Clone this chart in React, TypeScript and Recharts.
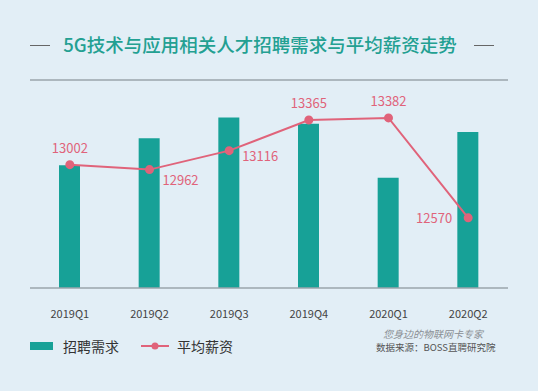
import { ComposedChart, Bar, Line, XAxis, YAxis, ReferenceLine } from "recharts";

const quarters = ["2019Q1", "2019Q2", "2019Q3", "2019Q4", "2020Q1", "2020Q2"];
const demand = [59, 72, 82, 79, 53, 75];
const salary = [13002, 12962, 13116, 13365, 13382, 12570];
const labelSpots = ["top", "bottomRight", "right", "top", "top", "left"];

const data = quarters.map((q, i) => ({ name: q, demand: demand[i], salary: salary[i] }));

const TEAL = "#17a197";
const PINK = "#e0637a";
const FONT = '"Noto Sans CJK SC", "Noto Sans", sans-serif';

const SalaryLabel = (props: any) => {
  const { x, y, value, index } = props;
  const spot = labelSpots[index];
  let tx = x, ty = y - 12, anchor: any = "middle";
  if (spot === "bottomRight") { tx = x + 13; ty = y + 15; anchor = "start"; }
  if (spot === "right") { tx = x + 13; ty = y + 10; anchor = "start"; }
  if (spot === "left") { tx = x - 16; ty = y + 5; anchor = "end"; }
  return (
    <text x={tx} y={ty} fill={PINK} fontSize={13} textAnchor={anchor} fontFamily={FONT}>
      {value}
    </text>
  );
};

const LegendBox = () => (
  <div style={{ position: "absolute", left: 30, top: 336, display: "flex", alignItems: "center", fontFamily: FONT, fontSize: 14, color: "#333" }}>
    <span style={{ width: 23, height: 8, background: TEAL, display: "inline-block", marginRight: 10 }} />
    <span>招聘需求</span>
    <svg width={28} height={10} style={{ marginLeft: 22, marginRight: 8 }}>
      <line x1={0} y1={5} x2={28} y2={5} stroke={PINK} strokeWidth={2} />
      <circle cx={14} cy={5} r={3.5} fill={PINK} />
    </svg>
    <span>平均薪资</span>
  </div>
);

export default function App() {
  return (
    <div style={{ position: "absolute", left: 0, top: 0, width: 538, height: 391, background: "#e2eef6", overflow: "hidden" }}>
      <div style={{ position: "absolute", top: 31, left: 0, width: 520, textAlign: "center", fontFamily: FONT, fontSize: 18.5, fontWeight: 500, color: "#23a092" }}>
        5G技术与应用相关人才招聘需求与平均薪资走势
      </div>
      <div style={{ position: "absolute", top: 45, left: 30, width: 20, height: 1, background: "#666" }} />
      <div style={{ position: "absolute", top: 45, left: 474, width: 20, height: 1, background: "#666" }} />
      <ComposedChart width={538} height={391} data={data} margin={{ top: 80, right: 30, bottom: 73, left: 30 }}>
        <XAxis dataKey="name" axisLine={{ stroke: "#9aa4ab", strokeWidth: 1.5 }} tickLine={false}
          tick={{ fontSize: 11, fill: "#444", fontFamily: FONT, dy: 14 }} />
        <YAxis yAxisId="left" hide domain={[0, 100]} />
        <YAxis yAxisId="right" hide orientation="right" domain={[12000, 13690]} />
        <ReferenceLine yAxisId="left" y={100} stroke="#9aa4ab" strokeWidth={1.5} />
        <Bar yAxisId="left" dataKey="demand" name="招聘需求" fill={TEAL} barSize={21} isAnimationActive={false} />
        <Line yAxisId="right" dataKey="salary" name="平均薪资" stroke={PINK} strokeWidth={2}
          dot={{ r: 3.5, fill: PINK, stroke: PINK }} isAnimationActive={false} label={<SalaryLabel />} />
      </ComposedChart>
      <LegendBox />
      <div style={{ position: "absolute", left: 383, top: 326, fontFamily: FONT, fontSize: 10, fontStyle: "italic", color: "#8a8f94" }}>
        您身边的物联网卡专家
      </div>
      <div style={{ position: "absolute", left: 376, top: 340, fontFamily: FONT, fontSize: 9.5, color: "#555" }}>
        数据来源：BOSS直聘研究院
      </div>
    </div>
  );
}
